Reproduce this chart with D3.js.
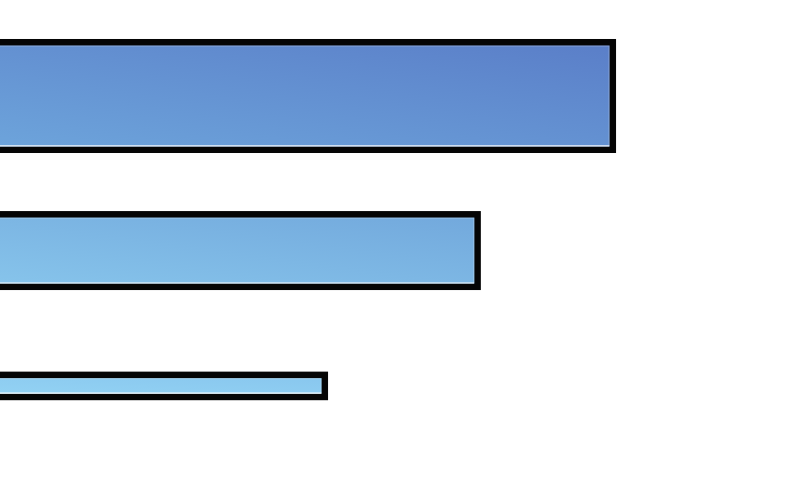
<!DOCTYPE html>
<html>
<head>
<meta charset="utf-8">
<script src="https://cdn.jsdelivr.net/npm/d3@7"></script>
<style>
  html, body { margin: 0; padding: 0; background: #fff; }
  svg { display: block; }
</style>
</head>
<body>
<div id="chart"></div>
<script>
// bar data
const categories = ["A", "B", "C"];
const values = [84.1, 67.2, 48.1];     // bar length
const positions = [2.0, 5.22, 8.04];   // row centre
const thickness = [2.24, 1.51, 0.46];  // bar height

const data = categories.map((c, i) => ({
  name: c, value: values[i], pos: positions[i], size: thickness[i]
}));

const width = 800, height = 480;

const svg = d3.select("#chart")
  .append("svg")
  .attr("width", width)
  .attr("height", height);

// bars start left of the visible area
const x = d3.scaleLinear().domain([0, 100]).range([-60, 740]);
const y = d3.scaleLinear().domain([0, 10]).range([0, 480]);

// colour by value: light end (bottom-left) and dark end (top-right) of each bar
const valueStops = [d3.min(values), d3.median(values), d3.max(values)];
const lightColor = d3.scaleLinear()
  .domain(valueStops)
  .range(["#94d4f4", "#88c6ec", "#6ea6dc"]);
const darkColor = d3.scaleLinear()
  .domain(valueStops)
  .range(["#88c6ee", "#72a8dc", "#5a7ec8"]);

const defs = svg.append("defs");
const grads = defs.selectAll("linearGradient")
  .data(data)
  .join("linearGradient")
  .attr("id", (d, i) => "barFill" + i)
  .attr("x1", 0).attr("y1", 1)
  .attr("x2", 1).attr("y2", 0);
grads.append("stop").attr("offset", "0%").attr("stop-color", d => lightColor(d.value));
grads.append("stop").attr("offset", "100%").attr("stop-color", d => darkColor(d.value));

const bars = svg.selectAll("g.bar")
  .data(data)
  .join("g")
  .attr("class", "bar");

bars.append("rect")
  .attr("x", d => x(0))
  .attr("y", d => y(d.pos - d.size / 2))
  .attr("width", d => x(d.value) - x(0))
  .attr("height", d => y(d.size) - y(0))
  .attr("fill", (d, i) => `url(#barFill${i})`)
  .attr("stroke", "#050505")
  .attr("stroke-width", 6.5);

// faint inner edge
bars.append("rect")
  .attr("x", d => x(0))
  .attr("y", d => y(d.pos - d.size / 2) + 3.8)
  .attr("width", d => x(d.value) - x(0) - 3.8)
  .attr("height", d => y(d.size) - y(0) - 7.6)
  .attr("fill", "none")
  .attr("stroke", "#fff")
  .attr("stroke-opacity", 0.25)
  .attr("stroke-width", 1);

// thin highlight inside the bottom edge
bars.append("line")
  .attr("x1", d => x(0))
  .attr("x2", d => x(d.value) - 3.5)
  .attr("y1", d => y(d.pos + d.size / 2) - 3.8)
  .attr("y2", d => y(d.pos + d.size / 2) - 3.8)
  .attr("stroke", "#fff")
  .attr("stroke-opacity", 0.85)
  .attr("stroke-width", 1.2);
</script>
</body>
</html>
